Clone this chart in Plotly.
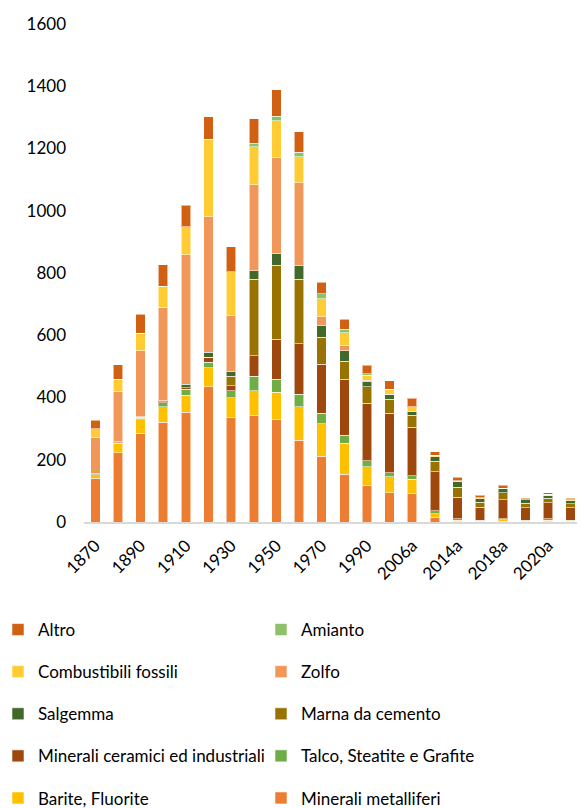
import plotly.graph_objects as go

categories = ["1870", "1880", "1890", "1900", "1910", "1920", "1930", "1940", "1950", "1960",
              "1970", "1980", "1990", "2000", "2006a", "2010a", "2014a", "2016a", "2018a",
              "2019a", "2020a", "2021a"]
tick_labels = ["1870", "1890", "1910", "1930", "1950", "1970", "1990", "2006a", "2014a", "2018a", "2020a"]

minerali_metalliferi = [141, 223, 285, 320, 352, 435, 335, 342, 328, 263, 212, 154, 117, 94, 91, 14, 3, 1, 2, 1, 2, 1]
barite_fluorite      = [11, 30, 43, 51, 56, 60, 64, 80, 89, 107, 103, 99, 61, 52, 46, 13, 3, 1, 5, 1, 4, 1]
talco                = [3, 2, 5, 12, 18, 19, 22, 47, 42, 41, 34, 26, 19, 12, 12, 9, 4, 3, 3, 3, 5, 4]
minerali_ceramici    = [0, 3, 3, 4, 6, 15, 17, 65, 128, 161, 158, 179, 184, 191, 155, 126, 69, 42, 62, 41, 51, 40]
marna_cemento        = [0, 0, 0, 0, 0, 0, 30, 246, 238, 208, 86, 59, 54, 46, 39, 33, 33, 17, 22, 14, 15, 12]
salgemma             = [0, 2, 2, 3, 11, 17, 15, 27, 38, 44, 37, 33, 18, 15, 11, 14, 18, 11, 13, 11, 9, 11]
zolfo                = [115, 159, 212, 300, 415, 435, 179, 277, 307, 266, 30, 16, 3, 0, 0, 0, 0, 0, 0, 0, 0, 0]
combustibili_fossili = [30, 39, 56, 68, 91, 248, 142, 121, 119, 84, 57, 42, 16, 16, 16, 5, 3, 3, 2, 1, 3, 2]
amianto              = [0, 0, 0, 0, 0, 0, 0, 12, 15, 14, 16, 11, 5, 0, 0, 0, 0, 0, 0, 0, 0, 0]
altro                = [27, 48, 61, 68, 69, 73, 81, 78, 84, 66, 37, 33, 27, 28, 27, 12, 10, 8, 9, 4, 5, 5]

# (name, values, color, legend column, legend rank)
series = [
    ("Minerali metalliferi", minerali_metalliferi, "#ED7D31", "legend2", 10),
    ("Barite, Fluorite", barite_fluorite, "#FFC000", "legend", 9),
    ("Talco, Steatite e Grafite", talco, "#70AD47", "legend2", 8),
    ("Minerali ceramici ed industriali", minerali_ceramici, "#9E480E", "legend", 7),
    ("Marna da cemento", marna_cemento, "#997300", "legend2", 6),
    ("Salgemma", salgemma, "#43682B", "legend", 5),
    ("Zolfo", zolfo, "#F1975A", "legend2", 4),
    ("Combustibili fossili", combustibili_fossili, "#FFCD33", "legend", 3),
    ("Amianto", amianto, "#8CC168", "legend2", 2),
    ("Altro", altro, "#D26012", "legend", 1),
]

FONT = "Gill Sans, Gill Sans MT, Lato, sans-serif"

fig = go.Figure()
for name, vals, color, leg, rank in series:
    fig.add_trace(go.Bar(
        x=categories, y=vals, name=name, legend=leg, legendgroup=name, legendrank=rank,
        marker=dict(color=color, line=dict(color="rgba(255,255,255,0.55)", width=1)),
    ))

# the page body adds an 8px offset, so the figure is sized to the remaining viewport
W, H = 577, 800
ml, mr, mt, mb = 76, 3, 16, 286
pw = W - ml - mr
ph = H - mt - mb

def px_x(p):
    return (p - ml) / pw

def px_y(p):
    return (H - mb - p) / ph

legend_common = dict(
    orientation="v", yanchor="top", xanchor="left",
    font=dict(family=FONT, size=17, color="#000000"),
    traceorder="grouped", tracegroupgap=17,
    bgcolor="rgba(0,0,0,0)", itemclick=False, itemdoubleclick=False,
)

fig.update_layout(
    width=W, height=H,
    margin=dict(l=ml, r=mr, t=mt, b=mb, autoexpand=False),
    barmode="stack", bargap=0.58,
    plot_bgcolor="white", paper_bgcolor="white",
    font=dict(family=FONT, size=17, color="#000000"),
    showlegend=True,
    legend=dict(x=px_x(-10), y=px_y(604), **legend_common),
    legend2=dict(x=px_x(253), y=px_y(604), **legend_common),
    xaxis=dict(
        type="category", categoryorder="array", categoryarray=categories,
        tickmode="array", tickvals=tick_labels, ticktext=tick_labels,
        tickangle=-45, showline=True, linecolor="#D9D9D9", linewidth=2,
        showgrid=False, ticks="", automargin=False, ticklabelstandoff=5,
        tickfont=dict(family=FONT, size=17, color="#000000"),
    ),
    yaxis=dict(
        range=[0, 1600], tickvals=[0, 200, 400, 600, 800, 1000, 1200, 1400, 1600],
        showgrid=False, zeroline=False, showline=False, ticks="", automargin=False,
        ticklabelstandoff=17, tickfont=dict(family=FONT, size=17, color="#000000"),
    ),
)

fig.write_html("out.html")
